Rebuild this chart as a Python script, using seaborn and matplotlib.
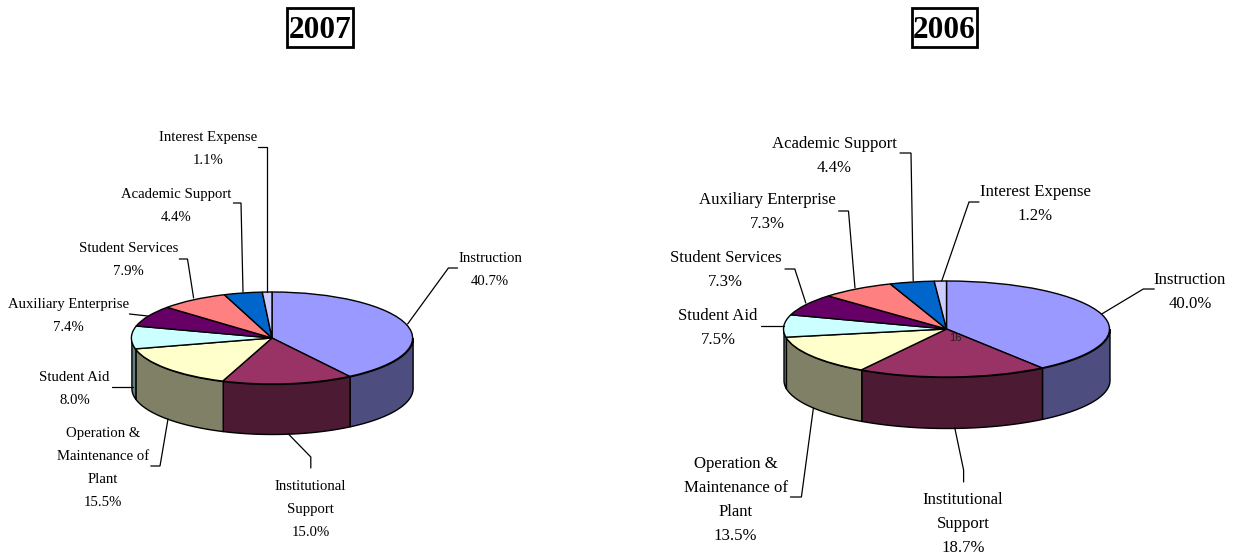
import numpy as np
import matplotlib
matplotlib.use('Agg')
import matplotlib.pyplot as plt
from matplotlib.patches import Rectangle
import seaborn as sns

# slice values, clockwise from 12 o'clock
labels_2007 = ['Instruction', 'Institutional\nSupport', 'Operation &\nMaintenance of\nPlant', 'Student Aid',
               'Auxiliary Enterprise', 'Student Services', 'Academic Support', 'Interest Expense']
values_2007 = [40.7, 15.0, 15.5, 8.0, 7.4, 7.9, 4.4, 1.1]

labels_2006 = ['Instruction', 'Institutional\nSupport', 'Operation &\nMaintenance of\nPlant', 'Student Aid',
               'Student Services', 'Auxiliary Enterprise', 'Academic Support', 'Interest Expense']
values_2006 = [40.0, 18.7, 13.5, 7.5, 7.3, 7.3, 4.4, 1.2]

top_colors = ['#9999FF', '#993366', '#FFFFCC', '#CCFFFF', '#660066', '#FF8080', '#0066CC', '#CCCCFF']
side_colors = ['#4D4D80', '#4D1A33', '#808066', '#668080', '#330033', '#804040', '#003366', '#666680']

# layout in image pixels: text centre (x, first line y) and leader line
W, H = 1235, 555
layout_2007 = {
    'centre': (272, 338), 'rx': 140.6, 'ry': 46, 'depth': 50, 'size': 10.6, 'line_h': 23,
    'box': (287, 8, 66, 39),
    'text': [(490, 257), (310.5, 485), (103, 432), (74.5, 376), (68.5, 303), (128.5, 247), (176, 193), (208, 136)],
    'lead': [[(457.5, 268), (448.4, 268), (407.6, 324)],
             [(310.8, 468), (310.8, 457), (288.4, 434)],
             [(150.8, 466), (160, 466), (168, 419)],
             [(112, 387), (132.5, 387)],
             [(129.4, 314), (147.8, 316)],
             [(179.3, 259), (187.5, 259), (193.6, 298)],
             [(233.4, 203), (241, 203), (243, 292)],
             [(258, 147), (266.5, 147), (266.5, 292)]],
}
layout_2006 = {
    'centre': (946.5, 329), 'rx': 163, 'ry': 48, 'depth': 51, 'size': 12.1, 'line_h': 24,
    'box': (912, 8, 65, 39),
    'text': [(1190, 278), (963, 498), (735.5, 462), (718, 315), (725.5, 257), (767, 199), (834, 142), (1035, 191)],
    'lead': [[(1154.3, 289), (1143.3, 289), (1101.7, 314)],
             [(963.6, 482), (963.6, 470), (954.8, 428)],
             [(790.4, 497), (801.4, 497), (813.4, 408)],
             [(760.8, 326), (783.8, 326)],
             [(785, 269), (794.8, 269), (805.8, 303)],
             [(838.6, 211), (848.5, 211), (855, 288)],
             [(900, 153), (911, 153), (913.2, 281)],
             [(979, 202), (969, 202), (941.7, 281)]],
}


def draw_pie(fig, overlay, values, labels, year, lay):
    cx, cy = lay['centre']
    rx, ry = lay['rx'], lay['ry']
    # full-figure axes scaled so that the unit circle lands on the ellipse
    ax = fig.add_axes([0, 0, 1, 1])
    ax.patch.set_alpha(0)

    # side wall: only the front half of the drum shows
    edges = np.cumsum([0] + list(values)) / sum(values) * 360
    depth = lay['depth'] / ry
    for i in range(len(values)):
        a0, a1 = max(edges[i], 90), min(edges[i + 1], 270)
        if a1 <= a0:
            continue
        t = np.radians(np.linspace(a0, a1, 80))
        ax.fill_between(np.sin(t), np.cos(t), np.cos(t) - depth, color=side_colors[i],
                        edgecolor='black', linewidth=1, zorder=1)

    ax.pie(values, colors=top_colors, startangle=90, counterclock=False, radius=1,
           wedgeprops={'edgecolor': 'black', 'linewidth': 1, 'zorder': 2})
    ax.set_aspect('auto')
    ax.set_xlim(-cx / rx, (W - cx) / rx)
    ax.set_ylim((cy - H) / ry, cy / ry)
    ax.axis('off')

    for i, (name, val) in enumerate(zip(labels, values)):
        tx, ty = lay['text'][i]
        # each line placed on its own so the spacing follows the reference
        for j, line in enumerate(name.split('\n') + [f'{val:.1f}%']):
            overlay.text(tx, ty + 1.5 + j * lay['line_h'], line, ha='center', va='center',
                         fontsize=lay['size'], color='black')
        xs, ys = zip(*lay['lead'][i])
        overlay.plot(xs, ys, color='black', lw=0.9, solid_joinstyle='miter')

    bx, by, bw, bh = lay['box']
    overlay.add_patch(Rectangle((bx, by), bw, bh, facecolor='white', edgecolor='black', linewidth=2))
    overlay.text(bx + bw / 2, by + bh / 2, year, ha='center', va='center_baseline', fontsize=22.5,
                 fontweight='bold', color='black')


def main():
    sns.set_theme(style='white')
    plt.rcParams['font.family'] = ['Liberation Serif', 'DejaVu Sans']

    fig = plt.figure(figsize=(W / 100, H / 100), dpi=100, facecolor='white')

    overlay = fig.add_axes([0, 0, 1, 1], zorder=5)
    overlay.patch.set_alpha(0)
    overlay.set_xlim(0, W)
    overlay.set_ylim(H, 0)
    overlay.axis('off')

    draw_pie(fig, overlay, values_2007, labels_2007, '2007', layout_2007)
    draw_pie(fig, overlay, values_2006, labels_2006, '2006', layout_2006)

    # stray page number sitting on the 2006 pie
    overlay.text(955, 338, '16', ha='center', va='center', fontsize=8, family='Liberation Sans', color='#222222')

    fig.savefig('out.png', dpi=100)
    plt.close(fig)


if __name__ == '__main__':
    main()
